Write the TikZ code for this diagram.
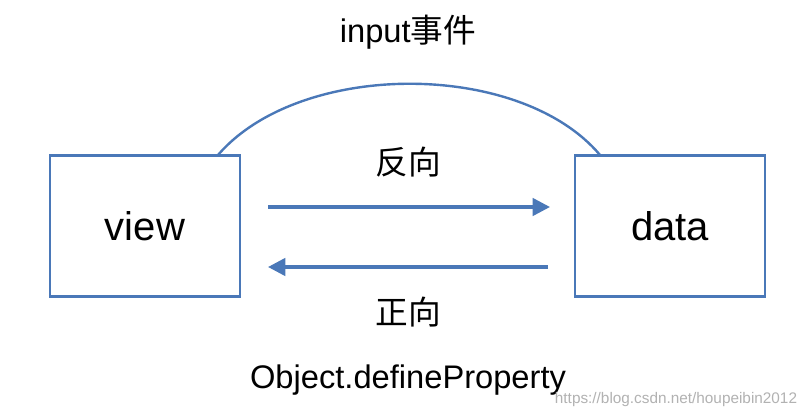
\documentclass[tikz,border=0pt]{standalone}
\usepackage{fontspec}
\setmainfont{Liberation Sans}
\newfontfamily\cjk{Noto Sans CJK SC}
\usetikzlibrary{arrows.meta}
\definecolor{bl}{HTML}{4A78B8}
\begin{document}
\begin{tikzpicture}[x=0.75pt,y=-0.75pt,
  boxs/.style={draw=bl,line width=1.8pt,minimum width=142.5pt,minimum height=106pt,inner sep=0pt,font=\fontsize{30}{34}\selectfont},
  lab/.style={font=\fontsize{24.5}{28}\selectfont},
  arr/.style={draw=bl,line width=2.6pt,-{Triangle[length=13pt,width=13pt]}}]
\useasboundingbox[fill=white] (0,0) rectangle (810,417);
\node[boxs] (view) at (145,226) {view};
\node[boxs] (data) at (670,226) {data};
\coordinate (a1) at (218,155);
\coordinate (a2) at (600,155);
\draw[bl,line width=1.8pt] (a1) .. controls (300,60) and (520,60) .. (a2);
\coordinate (r1) at (268,207); \coordinate (r2) at (550,207);
\coordinate (l1) at (548,267); \coordinate (l2) at (268,267);
\draw[arr] (r1) -- (r2);
\draw[arr] (l1) -- (l2);
\node[lab] (t1) at (408,32) {input{\cjk 事件}};
\node[lab] (t2) at (408,162) {\cjk 反向};
\node[lab] (t3) at (408,312) {\cjk 正向};
\node[lab] (t4) at (408,380) {Object.defineProperty};
\node[font=\fontsize{11.5}{13}\selectfont,text=gray!60] (w) at (676,400) {https://blog.csdn.net/houpeibin2012};
\end{tikzpicture}
\end{document}
